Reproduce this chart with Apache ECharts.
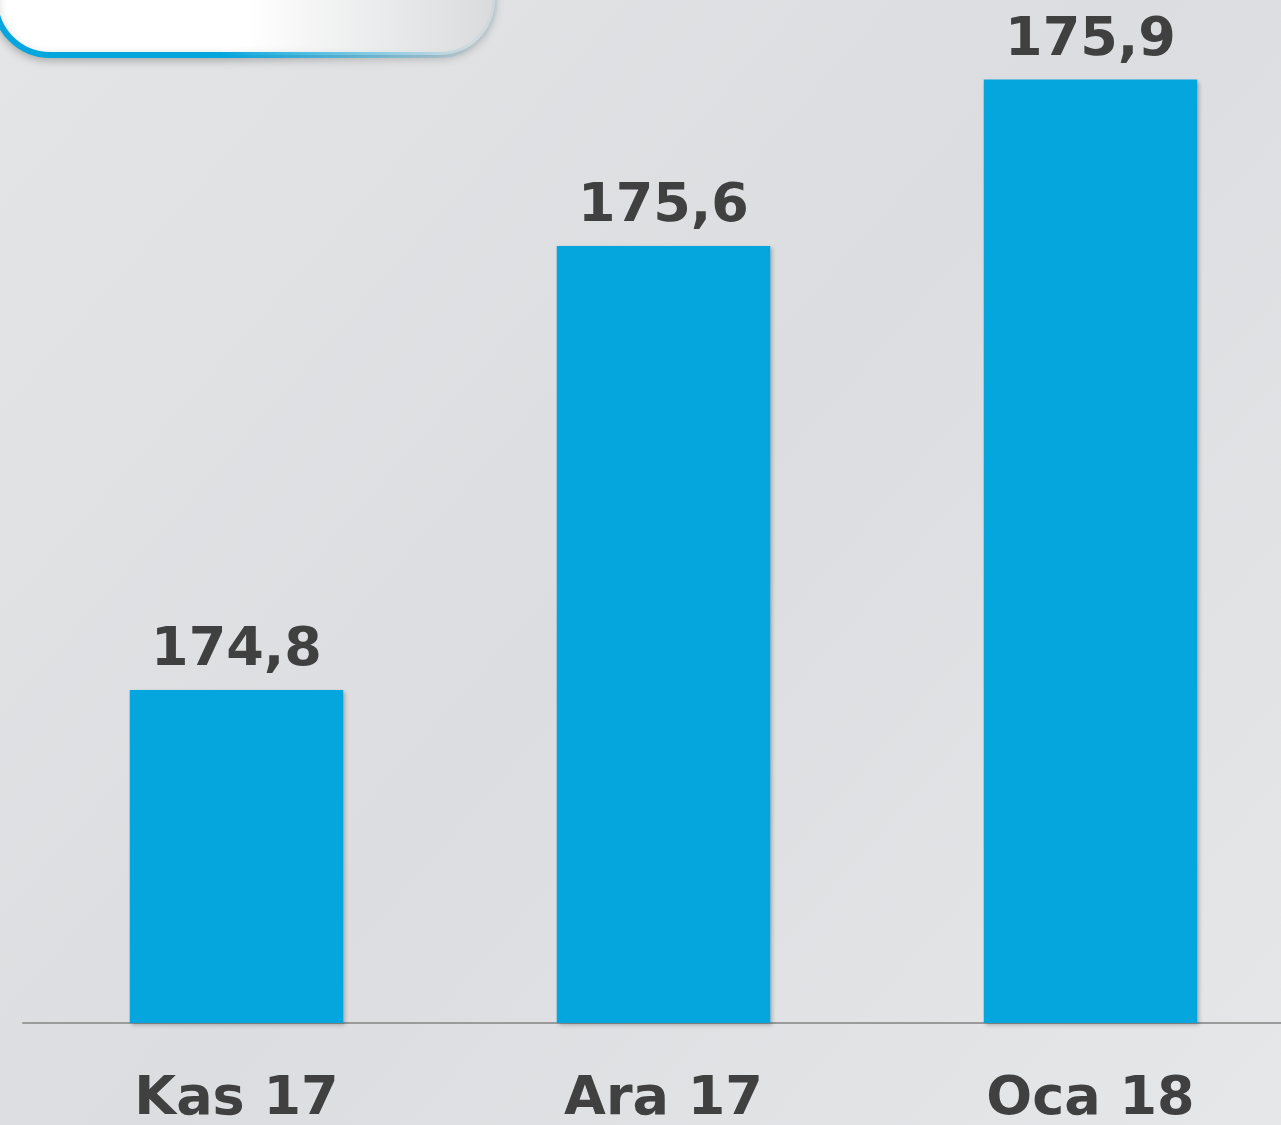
<html>
    <head>
        <meta charset="utf-8">
        <script src='https://cdn.jsdelivr.net/npm/echarts@6/dist/echarts.min.js'></script>
    </head>
    <body>
        <style>
            html, body, #main {
                width: 100%;
                height: 100%;
                margin: 0;
            }
        </style>
        <div id='main'></div>
        <script>
            var months = ['Kas 17', 'Ara 17', 'Oca 18'];
            var values = [174.8, 175.6, 175.9];

            var chart = echarts.init(document.getElementById('main'));

            var option = {
                backgroundColor: new echarts.graphic.LinearGradient(0, 0, 1, 1, [
                    { offset: 0, color: '#e4e5e7' },
                    { offset: 0.5, color: '#dcdde0' },
                    { offset: 1, color: '#e6e7e9' }
                ]),
                graphic: [{
                    type: 'rect',
                    z: 10,
                    shape: { x: -5, y: -100, width: 500, height: 155, r: 55 },
                    style: {
                        fill: new echarts.graphic.LinearGradient(0, 0, 1, 0, [
                            { offset: 0, color: '#ffffff' },
                            { offset: 0.5, color: '#ffffff' },
                            { offset: 1, color: '#d9dadc' }
                        ]),
                        stroke: new echarts.graphic.LinearGradient(0, 0, 1, 0, [
                            { offset: 0, color: '#05a6dd' },
                            { offset: 0.45, color: '#05a6dd' },
                            { offset: 0.95, color: 'rgba(5,166,221,0.05)' }
                        ]),
                        lineWidth: 6,
                        shadowBlur: 8,
                        shadowOffsetY: 3,
                        shadowColor: 'rgba(0,0,0,0.2)'
                    }
                }],
                grid: {
                    left: 23,
                    top: 24,
                    width: 1281,
                    bottom: 102,
                    outerBoundsMode: 'none'
                },
                xAxis: {
                    type: 'category',
                    data: months,
                    axisLine: { lineStyle: { color: '#9a9a9a', width: 2 } },
                    axisTick: { show: false },
                    axisLabel: {
                        margin: 50,
                        fontFamily: 'DejaVu Sans',
                        fontWeight: 'bold',
                        fontSize: 54,
                        color: '#404040'
                    }
                },
                yAxis: {
                    type: 'value',
                    min: 174.2,
                    max: 176,
                    show: false,
                    splitLine: { show: false }
                },
                series: [{
                    type: 'bar',
                    data: values,
                    barWidth: '50%',
                    itemStyle: {
                        color: '#05a6dd',
                        shadowBlur: 4,
                        shadowOffsetX: 2,
                        shadowOffsetY: 2,
                        shadowColor: 'rgba(0,0,0,0.25)'
                    },
                    label: {
                        show: true,
                        position: 'top',
                        distance: 12,
                        fontFamily: 'DejaVu Sans',
                        fontWeight: 'bold',
                        fontSize: 54,
                        color: '#404040',
                        formatter: function (p) {
                            return p.value.toFixed(1).replace('.', ',');
                        }
                    }
                }]
            };

            chart.setOption(option);

            window.onresize = chart.resize;
        </script>
    </body>
</html>
